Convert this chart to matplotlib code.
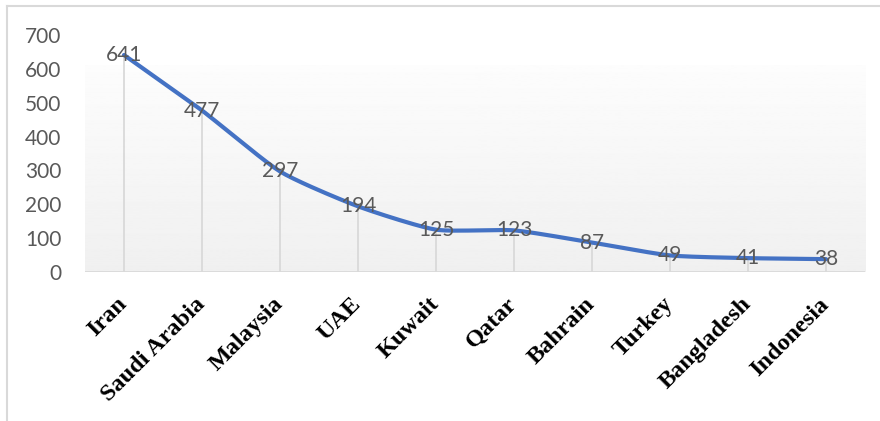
import numpy as np
import matplotlib.pyplot as plt
from matplotlib.lines import Line2D

countries = ['Iran', 'Saudi Arabia', 'Malaysia', 'UAE', 'Kuwait', 'Qatar',
             'Bahrain', 'Turkey', 'Bangladesh', 'Indonesia']
values = [641, 477, 297, 194, 125, 123, 87, 49, 41, 38]
yticks = [0, 100, 200, 300, 400, 500, 600, 700]


def smooth(x, y, n=20, t=0.3):
    # Bezier smoothing between points, similar to Excel's smoothed line
    x = np.asarray(x, float)
    y = np.asarray(y, float)
    px = np.concatenate([[x[0]], x, [x[-1]]])
    py = np.concatenate([[y[0]], y, [y[-1]]])
    xs, ys = [], []
    for i in range(1, len(px) - 2):
        p0, p1, p2, p3 = (np.array([px[j], py[j]]) for j in range(i - 1, i + 3))
        c1 = p1 + (p2 - p0) * t / 3
        c2 = p2 - (p3 - p1) * t / 3
        s = np.linspace(0, 1, n)[:, None]
        pts = ((1 - s) ** 3) * p1 + 3 * ((1 - s) ** 2) * s * c1 + 3 * (1 - s) * s ** 2 * c2 + s ** 3 * p2
        xs.append(pts[:, 0])
        ys.append(pts[:, 1])
    return np.concatenate(xs), np.concatenate(ys)


plt.rcParams['font.family'] = ['Lato', 'DejaVu Sans']

fig = plt.figure(figsize=(8.8, 4.21), dpi=100)
ax = fig.add_axes([85 / 880, 1 - 272 / 421, 780 / 880, 237 / 421])

x = np.arange(len(countries))
ax.set_xlim(-0.5, len(countries) - 0.5)
ax.set_ylim(0, 700)

# gradient plot-area fill
grad = np.linspace(0.99, 0.94, 256)[:, None]
ax.imshow(grad, cmap='gray', vmin=0, vmax=1, aspect='auto',
          extent=[0, 1, 0, 0.873], transform=ax.transAxes, zorder=0)

ax.vlines(x, 0, values, color='#d9d9d9', lw=1.3, zorder=1)
ax.axhline(0, color='#d9d9d9', lw=2, zorder=2)

sx, sy = smooth(x, values)
ax.plot(sx, sy, color='#4472C4', lw=3, solid_capstyle='round', zorder=3)

for xi, v in zip(x, values):
    ax.text(xi, v, str(v), ha='center', va='center', fontsize=15,
            color='#595959', zorder=4)

for s in ax.spines.values():
    s.set_visible(False)
ax.set_yticks(yticks)
ax.set_yticklabels([str(t) for t in yticks], fontsize=15, color='#595959')
ax.tick_params(axis='y', length=0, pad=17)
ax.set_xticks(x)
ax.set_xticklabels(countries, rotation=45, ha='right', va='center',
                   rotation_mode='anchor', fontsize=17.5, fontweight='bold',
                   family='Liberation Serif')
ax.tick_params(axis='x', length=0, pad=21)
for lab in ax.get_xticklabels():
    lab.set_x(0)

# outer chart border (top and left edges visible)
fig.lines.append(Line2D([7 / 880, 7 / 880], [0, 1 - 6 / 421],
                        transform=fig.transFigure, color='#d9d9d9', lw=1.5))
fig.lines.append(Line2D([7 / 880, 1], [1 - 6 / 421, 1 - 6 / 421],
                        transform=fig.transFigure, color='#d9d9d9', lw=1.5))

fig.savefig('out.png', dpi=100)
